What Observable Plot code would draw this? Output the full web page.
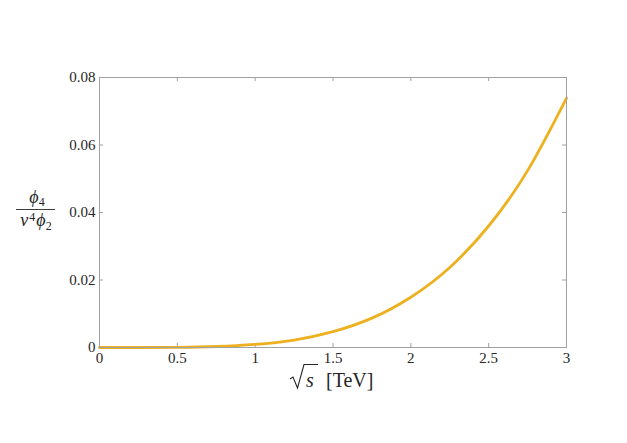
<!DOCTYPE html>
<html>
<head>
<meta charset="utf-8">
<script src="https://cdn.jsdelivr.net/npm/d3@7"></script>
<script src="https://cdn.jsdelivr.net/npm/@observablehq/plot@0.6"></script>
<style>
  html, body { margin: 0; padding: 0; background: #fff; }
  #chart svg text, #chart svg tspan { font-family: 'Liberation Serif', 'DejaVu Serif', serif !important; }
</style>
</head>
<body>
<div id="chart"></div>
<script>
// Data
const sqrtS = [0, 0.25, 0.5, 0.75, 1, 1.25, 1.5, 1.75, 2, 2.25, 2.5, 2.75, 3];
const ratio = [0, 0.000003, 0.00006, 0.0003, 0.0009, 0.0022, 0.0047, 0.0087, 0.0149, 0.0237, 0.0360, 0.0524, 0.0739];
const xTicks = [0, 0.5, 1, 1.5, 2, 2.5, 3];
const yTicks = [0, 0.02, 0.04, 0.06, 0.08];

const data = sqrtS.map((x, i) => ({x, y: ratio[i]}));

const W = 627, H = 443;
const mL = 99, mR = 61, mT = 77, mB = 96;
const innerW = W - mL - mR, innerH = H - mT - mB;
const tickLen = 4;
const frameColor = "#a0a0a0";
const textColor = "#262626";
const font = "'Liberation Serif', serif";

const plot = Plot.plot({
  width: W,
  height: H,
  marginLeft: mL,
  marginRight: mR,
  marginTop: mT,
  marginBottom: mB,
  style: {fontFamily: font, fontSize: "15px", color: textColor, background: "#fff"},
  x: {domain: [0, 3]},
  y: {domain: [0, 0.08]},
  marks: [
    // inward ticks on all four sides
    Plot.ruleX(xTicks, {x: d => d, insetTop: innerH - tickLen, stroke: frameColor}),
    Plot.ruleX(xTicks, {x: d => d, insetBottom: innerH - tickLen, stroke: frameColor}),
    Plot.ruleY(yTicks, {y: d => d, insetRight: innerW - tickLen, stroke: frameColor}),
    Plot.ruleY(yTicks, {y: d => d, insetLeft: innerW - tickLen, stroke: frameColor}),
    Plot.axisX({anchor: "bottom", ticks: xTicks, tickSize: 0, tickPadding: 5, tickFormat: d => String(d), label: null, fill: textColor}),
    Plot.axisY({anchor: "left", ticks: yTicks, tickSize: 0, tickPadding: 4, tickFormat: d => String(d), label: null, fill: textColor}),
    Plot.line(data, {x: "x", y: "y", stroke: "#EDB120", strokeWidth: 2.8, curve: "natural"}),
    Plot.frame({stroke: frameColor})
  ]
});

document.getElementById("chart").appendChild(plot);

const svg = d3.select(plot);

// y label: fraction phi_4 / (v^4 phi_2)
const yl = svg.append("g").attr("fill", textColor);
const num = yl.append("text").attr("x", 37).attr("y", 203).attr("text-anchor", "middle").style("font-size", "18px");
num.append("tspan").style("font-style", "italic").text("ϕ");
num.append("tspan").attr("dy", 3).style("font-size", "12px").text("4");
yl.append("line").attr("x1", 16).attr("x2", 55).attr("y1", 209.5).attr("y2", 209.5)
  .attr("stroke", textColor).attr("stroke-width", 0.9);
const den = yl.append("text").attr("x", 36).attr("y", 226).attr("text-anchor", "middle").style("font-size", "18px");
den.append("tspan").style("font-style", "italic").text("v");
den.append("tspan").attr("dy", -5).attr("dx", 1).style("font-size", "12px").text("4");
den.append("tspan").attr("dy", 5).attr("dx", 1).style("font-style", "italic").text("ϕ");
den.append("tspan").attr("dy", 4).style("font-size", "12px").text("2");

// x label: sqrt(s) [TeV]
const xl = svg.append("g").attr("fill", textColor).style("font-size", "20px");
xl.append("path")
  .attr("d", "M290,379 L293,377 L297.5,388 L304,364.5 L318,364.5")
  .attr("fill", "none").attr("stroke", textColor).attr("stroke-width", 1.1)
  .attr("stroke-linejoin", "miter");
xl.append("text").attr("x", 306).attr("y", 387).attr("text-anchor", "start").style("font-style", "italic").text("s");
xl.append("text").attr("x", 326).attr("y", 387).attr("text-anchor", "start").text("[TeV]");
</script>
</body>
</html>
